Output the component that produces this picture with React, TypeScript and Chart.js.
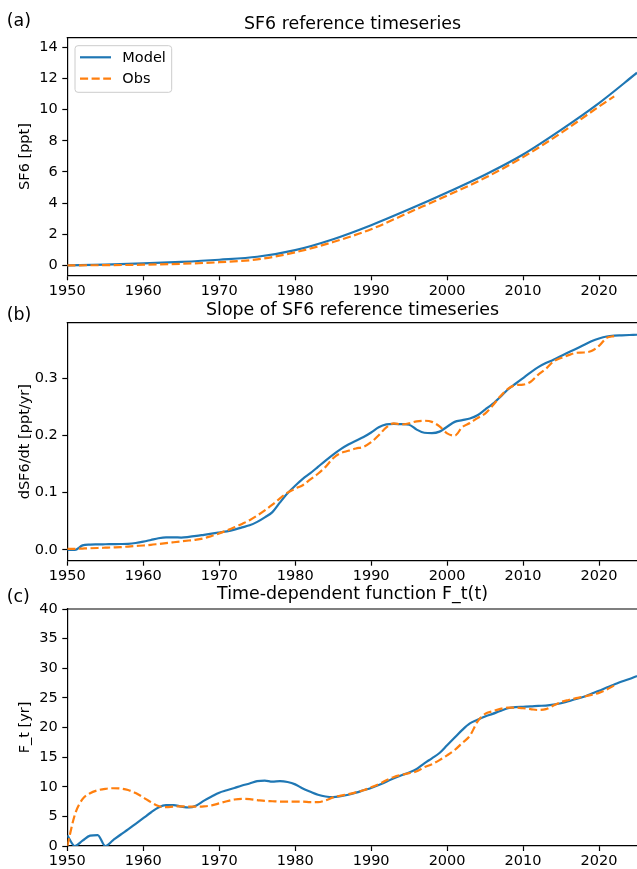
import React, { useEffect, useRef } from "react";
import { Chart, registerables } from "chart.js";

Chart.register(...registerables);

const FONT = "'DejaVu Sans', sans-serif";
const BLUE = "#1f77b4";
const ORANGE = "#ff7f0e";

// ---- Panel (a): SF6 mole fraction [ppt] ----
const sf6Years = [1950, 1955, 1960, 1965, 1970, 1975, 1980, 1985, 1990, 1995, 2000, 2005, 2010, 2015, 2020, 2025];
const sf6Model = [0.0, 0.05, 0.12, 0.22, 0.36, 0.55, 0.98, 1.68, 2.58, 3.6, 4.68, 5.82, 7.12, 8.7, 10.42, 12.37];
const sf6ObsYears = [1950, 1955, 1960, 1965, 1970, 1975, 1980, 1985, 1990, 1995, 2000, 2005, 2010, 2015, 2020, 2022];
const sf6Obs = [0.0, 0.01, 0.04, 0.1, 0.2, 0.38, 0.84, 1.5, 2.32, 3.4, 4.48, 5.62, 6.95, 8.5, 10.2, 10.85];

// ---- Annual axis shared by panels (b) and (c) ----
const annualYears = [
  1950, 1951, 1952, 1953, 1954, 1955, 1956, 1957, 1958, 1959,
  1960, 1961, 1962, 1963, 1964, 1965, 1966, 1967, 1968, 1969,
  1970, 1971, 1972, 1973, 1974, 1975, 1976, 1977, 1978, 1979,
  1980, 1981, 1982, 1983, 1984, 1985, 1986, 1987, 1988, 1989,
  1990, 1991, 1992, 1993, 1994, 1995, 1996, 1997, 1998, 1999,
  2000, 2001, 2002, 2003, 2004, 2005, 2006, 2007, 2008, 2009,
  2010, 2011, 2012, 2013, 2014, 2015, 2016, 2017, 2018, 2019,
  2020, 2021, 2022, 2023, 2024, 2025,
];
const obsYears = [
  1950, 1951, 1952, 1953, 1954, 1955, 1956, 1957, 1958, 1959,
  1960, 1961, 1962, 1963, 1964, 1965, 1966, 1967, 1968, 1969,
  1970, 1971, 1972, 1973, 1974, 1975, 1976, 1977, 1978, 1979,
  1980, 1981, 1982, 1983, 1984, 1985, 1986, 1987, 1988, 1989,
  1990, 1991, 1992, 1993, 1994, 1995, 1996, 1997, 1998, 1999,
  2000, 2001, 2002, 2003, 2004, 2005, 2006, 2007, 2008, 2009,
  2010, 2011, 2012, 2013, 2014, 2015, 2016, 2017, 2018, 2019,
  2020, 2021, 2022,
];

// ---- Panel (b): growth rate dSF6/dt [ppt/yr] ----
const slopeModel = [
  0.0, 0.0, 0.008, 0.0095, 0.0098, 0.01, 0.0102, 0.0104, 0.0108, 0.0122,
  0.0145, 0.0175, 0.0205, 0.022, 0.022, 0.0217, 0.0228, 0.0245, 0.0265, 0.0285,
  0.0305, 0.0325, 0.0355, 0.0395, 0.043, 0.049, 0.057, 0.066, 0.083, 0.099,
  0.112, 0.124, 0.134, 0.145, 0.156, 0.1665, 0.176, 0.184, 0.1905, 0.197,
  0.205, 0.214, 0.219, 0.22, 0.2195, 0.2185, 0.21, 0.2045, 0.204, 0.2065,
  0.215, 0.2235, 0.2265, 0.2295, 0.235, 0.245, 0.255, 0.267, 0.28, 0.29,
  0.3, 0.31, 0.319, 0.326, 0.332, 0.3385, 0.345, 0.351, 0.3575, 0.364,
  0.369, 0.3725, 0.374, 0.3745, 0.375, 0.3755,
];
const slopeObs = [
  0.002, 0.002, 0.0025, 0.003, 0.0035, 0.004, 0.0045, 0.005, 0.006, 0.007,
  0.0078, 0.009, 0.0105, 0.012, 0.0135, 0.015, 0.0165, 0.018, 0.0205, 0.0245,
  0.029, 0.034, 0.0395, 0.0455, 0.052, 0.06, 0.069, 0.079, 0.09, 0.1,
  0.107, 0.113, 0.123, 0.133, 0.145, 0.16, 0.169, 0.173, 0.177, 0.18,
  0.188, 0.2, 0.214, 0.221, 0.219, 0.221, 0.2245, 0.2255, 0.2235, 0.2155,
  0.2035, 0.1995, 0.2145, 0.2215, 0.23, 0.238, 0.252, 0.268, 0.281, 0.2875,
  0.2885, 0.2935, 0.306, 0.316, 0.329, 0.335, 0.34, 0.344, 0.3445, 0.347,
  0.356, 0.37, 0.373,
];

// ---- Panel (c): time-dependent function F_t [yr] ----
const ftModel = [
  1.8, 0.0, 0.9, 1.75, 1.85, 0.0, 0.95, 1.9, 2.8, 3.75,
  4.7, 5.65, 6.5, 6.9, 6.9, 6.65, 6.5, 6.85, 7.65, 8.35,
  9.0, 9.4, 9.8, 10.2, 10.55, 10.95, 11.05, 10.85, 10.95, 10.8,
  10.4, 9.7, 9.15, 8.65, 8.35, 8.25, 8.4, 8.65, 9.0, 9.4,
  9.8, 10.3, 10.85, 11.45, 11.95, 12.4, 13.0, 13.95, 14.8, 15.7,
  17.0, 18.3, 19.6, 20.7, 21.3, 21.85, 22.3, 22.8, 23.25, 23.45,
  23.5, 23.55, 23.65, 23.7, 23.85, 24.1, 24.45, 24.8, 25.2, 25.7,
  26.2, 26.75, 27.25, 27.75, 28.2, 28.7,
];
const ftObs = [
  0.0, 5.3, 7.9, 8.9, 9.4, 9.65, 9.75, 9.7, 9.45, 8.95,
  8.2, 7.4, 6.75, 6.55, 6.65, 6.7, 6.65, 6.65, 6.7, 6.85,
  7.2, 7.55, 7.85, 7.95, 7.9, 7.75, 7.6, 7.55, 7.5, 7.5,
  7.5, 7.5, 7.4, 7.4, 7.7, 8.2, 8.5, 8.75, 9.05, 9.4,
  9.9, 10.45, 11.1, 11.65, 12.0, 12.3, 12.6, 13.3, 13.8, 14.5,
  15.3, 16.2, 17.4, 18.6, 21.0, 22.3, 22.75, 23.15, 23.35, 23.35,
  23.25, 23.1, 22.95, 23.1, 23.7, 24.3, 24.65, 24.95, 25.2, 25.5,
  25.85, 26.4, 27.1,
];

// ---- Tick labels ----
const xTicks = [1950, 1960, 1970, 1980, 1990, 2000, 2010, 2020];
const sf6Ticks = [0, 2, 4, 6, 8, 10, 12, 14];
const slopeTicks = [0.0, 0.1, 0.2, 0.3];
const ftTicks = [0, 5, 10, 15, 20, 25, 30, 35, 40];

const seriesNames = ["Model", "Obs"];

const WIDTH = 637;
const AXIS_LEFT = 67.3;
const TICK_FONT = 14.5;
const TITLE_FONT = 17.4;
const LINE_W = 2.2;
const DASH = [8.1, 3.5];

type Series = { xs: number[]; ys: number[] };

interface PanelSpec {
  top: number;
  height: number;
  areaTop: number;
  areaBottom: number;
  yMin: number;
  yMax: number;
  yTicks: number[];
  decimals: number;
  yTitle: string;
  title: string;
  titleY: number;
  label: string;
  labelY: number;
  model: Series;
  obs: Series;
  legend: boolean;
}

const toPoints = (s: Series) => s.xs.map((x, i) => ({ x, y: s.ys[i] }));

// Draws the top spine, the axes title, the panel letter and (optionally) a framed legend.
const panelDecor = {
  id: "panelDecor",
  afterDraw(chart: any, _args: any, opts: any) {
    const { ctx, chartArea: a } = chart;
    ctx.save();
    ctx.strokeStyle = "#000";
    ctx.lineWidth = 1.2;
    ctx.beginPath();
    ctx.moveTo(a.left - 0.6, a.top);
    ctx.lineTo(a.right, a.top);
    ctx.stroke();

    ctx.fillStyle = "#000";
    ctx.font = `${TITLE_FONT}px ${FONT}`;
    ctx.textBaseline = "alphabetic";
    ctx.textAlign = "center";
    ctx.fillText(opts.title, (a.left + a.right) / 2 + 0.4, opts.titleY);
    ctx.textAlign = "left";
    ctx.fillText(opts.label, 6.7, opts.labelY);

    if (opts.legend) {
      const bx = a.left + 7.7;
      const by = a.top + 8;
      const bw = 96.7;
      const bh = 46.6;
      const r = 3;
      ctx.beginPath();
      ctx.moveTo(bx + r, by);
      ctx.arcTo(bx + bw, by, bx + bw, by + bh, r);
      ctx.arcTo(bx + bw, by + bh, bx, by + bh, r);
      ctx.arcTo(bx, by + bh, bx, by, r);
      ctx.arcTo(bx, by, bx + bw, by, r);
      ctx.closePath();
      ctx.fillStyle = "rgba(255,255,255,0.8)";
      ctx.fill();
      ctx.strokeStyle = "#cccccc";
      ctx.lineWidth = 1;
      ctx.stroke();

      const rows = [
        { name: seriesNames[0], color: BLUE, dash: [] as number[], y: by + 11.6 },
        { name: seriesNames[1], color: ORANGE, dash: DASH, y: by + 33 },
      ];
      ctx.font = `${TICK_FONT}px ${FONT}`;
      ctx.textBaseline = "middle";
      for (const row of rows) {
        ctx.strokeStyle = row.color;
        ctx.lineWidth = LINE_W;
        ctx.setLineDash(row.dash);
        ctx.beginPath();
        ctx.moveTo(bx + 5, row.y);
        ctx.lineTo(bx + 36, row.y);
        ctx.stroke();
        ctx.setLineDash([]);
        ctx.fillStyle = "#000";
        ctx.fillText(row.name, bx + 47.3, row.y + 0.5);
      }
    }
    ctx.restore();
  },
};

function buildConfig(spec: PanelSpec): any {
  const xHeight = spec.height - spec.areaBottom;
  return {
    type: "line",
    data: {
      datasets: [
        {
          label: seriesNames[0],
          data: toPoints(spec.model),
          borderColor: BLUE,
          borderWidth: LINE_W,
          pointRadius: 0,
          fill: false,
          cubicInterpolationMode: "monotone",
          order: 1,
        },
        {
          label: seriesNames[1],
          data: toPoints(spec.obs),
          borderColor: ORANGE,
          borderWidth: LINE_W,
          borderDash: DASH,
          pointRadius: 0,
          fill: false,
          cubicInterpolationMode: "monotone",
          order: 0,
        },
      ],
    },
    options: {
      animation: false,
      responsive: false,
      events: [],
      layout: { padding: { top: spec.areaTop, left: 0, right: 0, bottom: 0 } },
      plugins: {
        legend: { display: false },
        tooltip: { enabled: false },
        panelDecor: {
          title: spec.title,
          titleY: spec.titleY,
          label: spec.label,
          labelY: spec.labelY,
          legend: spec.legend,
        },
      },
      scales: {
        x: {
          type: "linear",
          min: 1950,
          max: 2025,
          afterBuildTicks: (s: any) => {
            s.ticks = xTicks.map((v) => ({ value: v }));
          },
          afterFit: (s: any) => {
            s.height = xHeight;
          },
          grid: { drawOnChartArea: false, drawTicks: true, tickLength: 5, tickWidth: 1.2, tickColor: "#000" },
          border: { display: true, color: "#000", width: 1.2 },
          ticks: {
            color: "#000",
            font: { size: TICK_FONT, family: FONT },
            padding: 2,
            maxRotation: 0,
            autoSkip: false,
            callback: (v: any) => String(v),
          },
        },
        y: {
          type: "linear",
          min: spec.yMin,
          max: spec.yMax,
          afterBuildTicks: (s: any) => {
            s.ticks = spec.yTicks.map((v) => ({ value: v }));
          },
          afterFit: (s: any) => {
            s.width = AXIS_LEFT;
          },
          grid: { drawOnChartArea: false, drawTicks: true, tickLength: 5, tickWidth: 1.2, tickColor: "#000" },
          border: { display: true, color: "#000", width: 1.2 },
          ticks: {
            color: "#000",
            font: { size: TICK_FONT, family: FONT },
            padding: 4.5,
            autoSkip: false,
            callback: (v: any) => Number(v).toFixed(spec.decimals),
          },
          title: {
            display: true,
            text: spec.yTitle,
            color: "#000",
            font: { size: TICK_FONT, family: FONT, lineHeight: 1.2 },
            padding: { top: 16.3, bottom: 0 },
          },
        },
      },
    },
    plugins: [panelDecor],
  };
}

const panels: PanelSpec[] = [
  {
    top: 0,
    height: 300,
    areaTop: 37.7,
    areaBottom: 275.3,
    yMin: -0.64,
    yMax: 14.62,
    yTicks: sf6Ticks,
    decimals: 0,
    yTitle: "SF6 [ppt]",
    title: "SF6 reference timeseries",
    titleY: 29.3,
    label: "(a)",
    labelY: 26,
    model: { xs: sf6Years, ys: sf6Model },
    obs: { xs: sf6ObsYears, ys: sf6Obs },
    legend: true,
  },
  {
    top: 290,
    height: 300,
    areaTop: 32.7,
    areaBottom: 270.7,
    yMin: -0.0187,
    yMax: 0.3965,
    yTicks: slopeTicks,
    decimals: 1,
    yTitle: "dSF6/dt [ppt/yr]",
    title: "Slope of SF6 reference timeseries",
    titleY: 25,
    label: "(b)",
    labelY: 30,
    model: { xs: annualYears, ys: slopeModel },
    obs: { xs: obsYears, ys: slopeObs },
    legend: false,
  },
  {
    top: 580,
    height: 289,
    areaTop: 29,
    areaBottom: 266,
    yMin: 0,
    yMax: 40,
    yTicks: ftTicks,
    decimals: 0,
    yTitle: "F_t [yr]",
    title: "Time-dependent function F_t(t)",
    titleY: 19.3,
    label: "(c)",
    labelY: 21.7,
    model: { xs: annualYears, ys: ftModel },
    obs: { xs: obsYears, ys: ftObs },
    legend: false,
  },
];

function Panel({ spec }: { spec: PanelSpec }) {
  const ref = useRef<HTMLCanvasElement>(null);
  useEffect(() => {
    if (!ref.current) return;
    const chart = new Chart(ref.current, buildConfig(spec));
    return () => chart.destroy();
  }, [spec]);
  return (
    <canvas
      ref={ref}
      width={WIDTH}
      height={spec.height}
      style={{ position: "absolute", left: 0, top: spec.top, width: WIDTH, height: spec.height }}
    />
  );
}

export default function App() {
  return (
    <div
      style={{
        position: "absolute",
        left: 0,
        top: 0,
        width: WIDTH,
        height: 869,
        background: "#fff",
        overflow: "hidden",
      }}
    >
      {panels.map((p) => (
        <Panel key={p.label} spec={p} />
      ))}
    </div>
  );
}
